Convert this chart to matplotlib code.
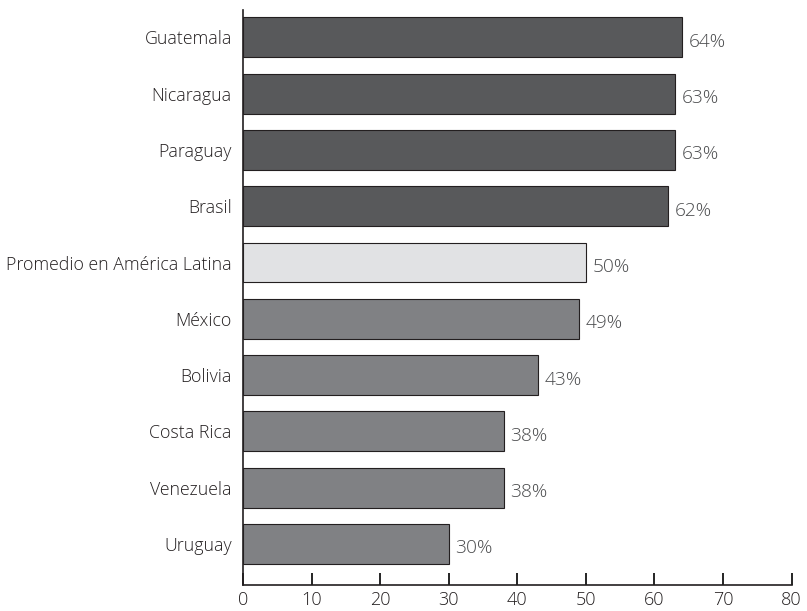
import matplotlib.pyplot as plt

countries = ["Guatemala", "Nicaragua", "Paraguay", "Brasil", "Promedio en América Latina",
             "México", "Bolivia", "Costa Rica", "Venezuela", "Uruguay"]
values = [64, 63, 63, 62, 50, 49, 43, 38, 38, 30]
groups = ["high", "high", "high", "high", "avg", "low", "low", "low", "low", "low"]

colors = {"high": "#58595b", "avg": "#e1e2e4", "low": "#808184"}

plt.rcParams["font.family"] = ["Open Sans", "DejaVu Sans"]
plt.rcParams["font.weight"] = "light"

fig = plt.figure(figsize=(8.07, 6.11), dpi=100)
ax = fig.add_axes([0.301, 0.0425, 0.680, 0.9415])

pos = range(len(countries))
ax.barh(pos, values, height=0.71, color=[colors[g] for g in groups],
        edgecolor="#231f20", linewidth=0.8)

# value labels sit a touch below the bar centre, as in the original
for p, v in zip(pos, values):
    ax.text(v + 1.0, p + 0.08, f"{v}%", va="center", ha="left", fontsize=13.8, color="#4a4b4d")

ax.set_yticks(list(pos))
ax.set_yticklabels(countries, fontsize=12.8, color="#231f20")
ax.set_ylim(9.73, -0.49)
ax.set_xlim(0, 80)
ax.set_xticks(range(0, 81, 10))
ax.tick_params(axis="x", direction="in", length=9, width=1.2, labelsize=13,
               labelcolor="#231f20", pad=4)
ax.tick_params(axis="y", length=0, pad=8)

for s in ["top", "right"]:
    ax.spines[s].set_visible(False)
ax.spines["left"].set_linewidth(1.2)
ax.spines["bottom"].set_linewidth(1.2)
ax.spines["left"].set_color("#231f20")
ax.spines["bottom"].set_color("#231f20")

fig.savefig("out.png", dpi=100)
